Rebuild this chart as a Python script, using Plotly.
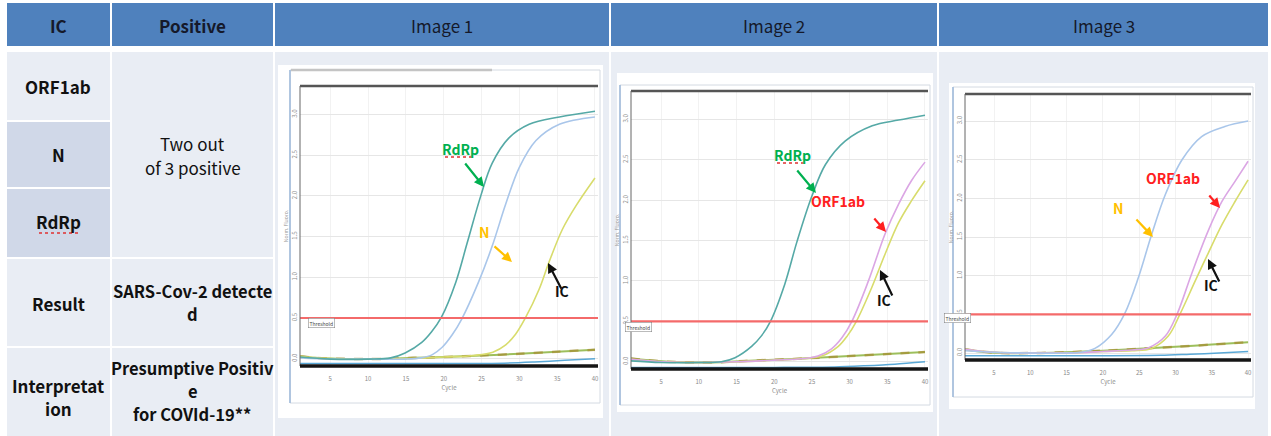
import plotly.graph_objects as go

W, H = 1271, 436
FONT = "Noto Sans CJK KR"

# ---------------- data ----------------
header_labels = ["IC", "Positive", "Image 1", "Image 2", "Image 3"]
header_bold = [True, True, False, False, False]
target_labels = [["ORF1ab"], ["N"], ["RdRp"], ["Result"], ["Interpretat", "ion"]]
positive_lines = ["Two out", "of 3 positive"]
result_lines = ["SARS-Cov-2 detecte", "d"]
interp_lines = ["Presumptive Positiv", "e", "for COVId-19**"]

x_tick_vals = [5, 10, 15, 20, 25, 30, 35, 40]
x_tick_text = ["5", "10", "15", "20", "25", "30", "35", "40"]
y_tick_vals = [0.0, 0.5, 1.0, 1.5, 2.0, 2.5, 3.0]
y_tick_text = ["0.0", "0.5", "1.0", "1.5", "2.0", "2.5", "3.0"]
threshold = 0.5

# Image 1
img1_rdrp_x = [1, 5, 10, 13, 14.9, 17.1, 18.4, 19.7, 21.6, 23.1, 24.9, 26.4, 28.6, 31.3, 35.3, 40]
img1_rdrp_y = [0.02, -0.005, -0.005, 0.01, 0.07, 0.2, 0.33, 0.51, 0.94, 1.42, 2.0, 2.4, 2.71, 2.88, 2.97, 3.04]
img1_n_x = [1, 5, 10, 15, 17, 18.5, 19.8, 21.1, 22.4, 24.6, 26.4, 28.2, 30, 32.2, 35.3, 40]
img1_n_y = [0.01, -0.005, -0.005, -0.005, 0.01, 0.05, 0.14, 0.29, 0.49, 0.94, 1.38, 1.9, 2.35, 2.68, 2.88, 2.97]
img1_ic_x = [1, 5, 10, 15, 20, 24, 26.5, 28.2, 29.5, 30.8, 32.6, 33.9, 35.7, 37.5, 40]
img1_ic_y = [0.03, 0.0, -0.005, 0.0, 0.02, 0.04, 0.08, 0.17, 0.3, 0.5, 0.85, 1.18, 1.59, 1.88, 2.22]
img1_base_x = [1, 3, 6, 10, 13, 16, 20, 25, 30, 35, 40]
img1_base_y = [0.03, 0.01, 0.0, -0.005, 0.0, 0.01, 0.02, 0.04, 0.06, 0.085, 0.11]
img1_low_x = [1, 10, 20, 28, 32, 36, 40]
img1_low_y = [-0.06, -0.06, -0.06, -0.055, -0.04, -0.02, 0.0]

# Image 2
img2_rdrp_x = [1, 5, 10, 13, 14.8, 17.0, 18.3, 19.5, 21.4, 23.0, 25.0, 26.8, 29.4, 33.0, 36.5, 40]
img2_rdrp_y = [0.01, -0.01, -0.01, 0.0, 0.05, 0.19, 0.32, 0.5, 0.96, 1.48, 2.05, 2.44, 2.73, 2.92, 2.99, 3.05]
img2_orf_x = [1, 5, 10, 15, 20, 24, 25.8, 27.6, 29.0, 30.3, 32.5, 34.7, 36.5, 38.2, 40]
img2_orf_y = [0.03, 0.0, -0.01, 0.0, 0.02, 0.04, 0.07, 0.16, 0.3, 0.5, 1.0, 1.58, 1.95, 2.24, 2.47]
img2_ic_x = [1, 5, 10, 15, 20, 24, 26.3, 28.5, 29.7, 30.9, 32.9, 34.7, 36.5, 38.2, 40]
img2_ic_y = [0.03, 0.0, -0.01, 0.0, 0.02, 0.04, 0.07, 0.19, 0.32, 0.5, 0.91, 1.33, 1.72, 1.99, 2.24]
img2_base_x = [1, 3, 6, 10, 13, 16, 20, 25, 30, 35, 40]
img2_base_y = [0.04, 0.02, 0.0, -0.01, -0.005, 0.01, 0.025, 0.045, 0.07, 0.095, 0.12]
img2_low_x = [1, 10, 20, 28, 32, 36, 40]
img2_low_y = [-0.07, -0.07, -0.07, -0.065, -0.05, -0.03, 0.0]

# Image 3
img3_n_x = [1, 5, 10, 15, 17, 18.9, 21.2, 23.0, 24.9, 26.7, 28.6, 30.9, 33.6, 36.8, 40]
img3_n_y = [0.03, 0.01, 0.0, 0.0, 0.01, 0.06, 0.24, 0.51, 0.98, 1.53, 2.05, 2.5, 2.80, 2.93, 3.0]
img3_orf_x = [1, 5, 10, 15, 20, 24, 26.3, 28.6, 30.2, 32.2, 34.5, 36.4, 38.2, 40]
img3_orf_y = [0.05, 0.01, 0.0, 0.0, 0.02, 0.04, 0.07, 0.22, 0.5, 1.02, 1.58, 1.96, 2.22, 2.48]
img3_ic_x = [1, 5, 10, 15, 20, 24, 26.7, 29.0, 30.6, 32.7, 34.5, 36.4, 38.2, 40]
img3_ic_y = [0.05, 0.01, 0.0, 0.0, 0.02, 0.03, 0.06, 0.22, 0.5, 0.93, 1.29, 1.66, 1.96, 2.24]
img3_base_x = [1, 3, 6, 10, 13, 16, 20, 25, 30, 35, 40]
img3_base_y = [0.05, 0.02, 0.0, 0.0, 0.005, 0.015, 0.03, 0.055, 0.08, 0.11, 0.14]
img3_low_x = [1, 10, 20, 28, 32, 36, 40]
img3_low_y = [-0.035, -0.035, -0.035, -0.03, -0.015, 0.0, 0.02]

# ---------------- style ----------------
C_HEAD = "#4F81BD"
C_LIGHT = "#E9EDF4"
C_DARK = "#D0D8E8"
C_RDRP = "#55A9A6"
C_N = "#A9C6EA"
C_IC = "#D8DC6C"
C_ORF = "#DBA6E4"
C_BASE = "#9DBF5C"
C_BASE2 = "#A8862C"
C_LOW = "#5AA8D6"
C_THR = "#F46A6A"


def fx(p):
    return p / W


def fy(p):
    return 1 - p / H


fig = go.Figure()

charts = [
    dict(plot=(300, 598, 86, 366), panel=(278, 603, 65, 418), frame=(290, 600, 70, 403),
         series=[(img1_base_x, img1_base_y, "base"), (img1_low_x, img1_low_y, "low"),
                 (img1_ic_x, img1_ic_y, C_IC), (img1_n_x, img1_n_y, C_N),
                 (img1_rdrp_x, img1_rdrp_y, C_RDRP)]),
    dict(plot=(631, 928, 91, 369), panel=(617, 933, 73, 412), frame=(620, 930, 85, 405),
         series=[(img2_base_x, img2_base_y, "base"), (img2_low_x, img2_low_y, "low"),
                 (img2_ic_x, img2_ic_y, C_IC), (img2_orf_x, img2_orf_y, C_ORF),
                 (img2_rdrp_x, img2_rdrp_y, C_RDRP)]),
    dict(plot=(965, 1251, 94, 360), panel=(949, 1255, 83, 409), frame=(953, 1253, 87, 397),
         series=[(img3_base_x, img3_base_y, "base"), (img3_low_x, img3_low_y, "low"),
                 (img3_ic_x, img3_ic_y, C_IC), (img3_orf_x, img3_orf_y, C_ORF),
                 (img3_n_x, img3_n_y, C_N)]),
]

shapes = []
annotations = []


def add_lines(lines, cx, first_y, step, bold, size=17):
    for k, ln in enumerate(lines):
        annotations.append(dict(x=fx(cx), y=fy(first_y + k * step), xref="paper", yref="paper",
                                text=("<b>%s</b>" % ln) if bold else ln, showarrow=False,
                                xanchor="center", yanchor="middle",
                                font=dict(family=FONT, size=size, color="#111111")))


# ---------------- table ----------------
cols = [(7, 110), (112, 273), (275, 609), (611, 937), (939, 1268)]
for (x0, x1), lab, bold in zip(cols, header_labels, header_bold):
    shapes.append(dict(type="rect", xref="paper", yref="paper", x0=fx(x0), x1=fx(x1),
                       y0=fy(46), y1=fy(3), fillcolor=C_HEAD, line=dict(width=0), layer="below"))
    annotations.append(dict(x=fx((x0 + x1) / 2), y=fy(26), xref="paper", yref="paper",
                            text=("<b>%s</b>" % lab) if bold else lab, showarrow=False,
                            xanchor="center", yanchor="middle",
                            font=dict(family=FONT, size=17, color="#15192a")))

rows = [(52, 120), (122, 187), (189, 257), (259, 346), (348, 436)]
row_fill = [C_LIGHT, C_DARK, C_DARK, C_LIGHT, C_LIGHT]
row_y = [86, 155, 222, 303, 385]
for (y0, y1), fc, lab, cy in zip(rows, row_fill, target_labels, row_y):
    shapes.append(dict(type="rect", xref="paper", yref="paper", x0=fx(7), x1=fx(110),
                       y0=fy(y1), y1=fy(y0), fillcolor=fc, line=dict(width=0), layer="below"))
    add_lines(lab, 58, cy, 23, True)

for (y0, y1) in [(52, 257), (259, 346), (348, 436)]:
    shapes.append(dict(type="rect", xref="paper", yref="paper", x0=fx(112), x1=fx(273),
                       y0=fy(y1), y1=fy(y0), fillcolor=C_LIGHT, line=dict(width=0), layer="below"))
add_lines(positive_lines, 192.5, 143, 24, False)
add_lines(result_lines, 192.5, 291, 23, True, 16.5)
add_lines(interp_lines, 192.5, 368, 23, True, 16.5)

for x0, x1 in cols[2:]:
    shapes.append(dict(type="rect", xref="paper", yref="paper", x0=fx(x0), x1=fx(x1),
                       y0=fy(436), y1=fy(52), fillcolor=C_LIGHT, line=dict(width=0), layer="below"))

shapes.append(dict(type="line", xref="paper", yref="paper", x0=fx(39), x1=fx(78),
                   y0=fy(233), y1=fy(233), line=dict(color="#E03030", width=1.5, dash="dot"),
                   layer="above"))

# ---------------- charts ----------------
for i, ch in enumerate(charts, start=1):
    l, r, t, b = ch["plot"]
    pl, pr, pt, pb = ch["panel"]
    fl, frr, ft, fb = ch["frame"]
    xa = "x" if i == 1 else "x%d" % i
    ya = "y" if i == 1 else "y%d" % i
    shapes.append(dict(type="rect", xref="paper", yref="paper", x0=fx(pl), x1=fx(pr),
                       y0=fy(pb), y1=fy(pt), fillcolor="white", line=dict(width=0), layer="below"))
    shapes.append(dict(type="rect", xref="paper", yref="paper", x0=fx(fl), x1=fx(frr),
                       y0=fy(fb), y1=fy(ft), fillcolor="rgba(0,0,0,0)",
                       line=dict(color="#D4DAE2", width=1), layer="below"))
    shapes.append(dict(type="line", xref="paper", yref="paper", x0=fx(fl), x1=fx(fl),
                       y0=fy(fb), y1=fy(ft), line=dict(color="#9DB9DA", width=1.5), layer="below"))
    shapes.append(dict(type="line", xref="%s domain" % xa, yref="%s domain" % ya, x0=0, x1=1,
                       y0=1, y1=1, line=dict(color="#555555", width=2.5)))
    shapes.append(dict(type="line", xref="%s domain" % xa, yref="%s domain" % ya, x0=0, x1=0,
                       y0=0, y1=1, line=dict(color="#666666", width=1)))
    shapes.append(dict(type="line", xref="%s domain" % xa, yref="%s domain" % ya, x0=0, x1=1,
                       y0=0, y1=0, line=dict(color="#151515", width=3.5)))

    for sx, sy, col in ch["series"]:
        if col == "base":
            fig.add_trace(go.Scatter(x=sx, y=sy, mode="lines", xaxis=xa, yaxis=ya,
                                     line=dict(color=C_BASE, width=2, shape="spline", smoothing=0.8),
                                     showlegend=False, hoverinfo="skip"))
            fig.add_trace(go.Scatter(x=sx, y=sy, mode="lines", xaxis=xa, yaxis=ya,
                                     line=dict(color=C_BASE2, width=2.5, shape="spline",
                                               smoothing=0.8, dash="dash"),
                                     opacity=0.6, showlegend=False, hoverinfo="skip"))
        elif col == "low":
            fig.add_trace(go.Scatter(x=sx, y=sy, mode="lines", xaxis=xa, yaxis=ya,
                                     line=dict(color=C_LOW, width=1.5, shape="spline", smoothing=0.8),
                                     showlegend=False, hoverinfo="skip"))
        else:
            fig.add_trace(go.Scatter(x=sx, y=sy, mode="lines", xaxis=xa, yaxis=ya,
                                     line=dict(color=col, width=1.6, shape="spline", smoothing=1.0),
                                     showlegend=False, hoverinfo="skip"))
    fig.add_trace(go.Scatter(x=[1, 40.4], y=[threshold, threshold], mode="lines", xaxis=xa, yaxis=ya,
                             line=dict(color=C_THR, width=2.2), showlegend=False, hoverinfo="skip"))

    axx = dict(domain=[fx(l), fx(r)], range=[1, 40.4], anchor=ya, tickvals=x_tick_vals,
               ticktext=x_tick_text, tickfont=dict(family=FONT, size=6, color="#8a8a8a"),
               showgrid=True, gridcolor="#F2F2F2", gridwidth=1, zeroline=False, showline=False,
               ticks="", ticklabelstandoff=8,
               title=dict(text="Cycle", font=dict(family=FONT, size=6, color="#8a8a8a"), standoff=2))
    axy = dict(domain=[fy(b), fy(t)], range=[-0.09, 3.35], anchor=xa, tickvals=y_tick_vals,
               ticktext=y_tick_text, tickangle=-90, tickfont=dict(family=FONT, size=6, color="#8a8a8a"),
               showgrid=True, gridcolor="#E6E6E6", gridwidth=1, zeroline=False, showline=False,
               ticks="", ticklabelstandoff=1,
               title=dict(text="Norm. Fluoro.", font=dict(family=FONT, size=5, color="#9a9a9a"), standoff=1))
    fig.update_layout(**{("xaxis" if i == 1 else "xaxis%d" % i): axx,
                         ("yaxis" if i == 1 else "yaxis%d" % i): axy})

for (tx, ty) in [(308, 328), (638, 332), (971, 323)]:
    annotations.append(dict(x=fx(tx), y=fy(ty), xref="paper", yref="paper", text="Threshold",
                            showarrow=False, font=dict(family=FONT, size=5, color="#444444"),
                            bordercolor="#777777", borderwidth=0.5, borderpad=1, bgcolor="white"))

shapes.append(dict(type="line", xref="paper", yref="paper", x0=fx(291), x1=fx(492),
                   y0=fy(70), y1=fy(70), line=dict(color="#C4C4C4", width=2.5)))

labels = [
    ("RdRp", "#00B050", 460, 149, 464, 162, 484, 187),
    ("N", "#FFC000", 484, 232, 493, 245, 512, 262),
    ("IC", "#111111", 562, 303, 562, 290, 548, 263),
    ("RdRp", "#00B050", 792, 155, 796, 169, 816, 193),
    ("ORF1ab", "#FF2020", 867, 201, 873, 217, 886, 232),
    ("IC", "#111111", 893, 312, 893, 297, 880, 270),
    ("N", "#FFC000", 1126, 208, 1135, 218, 1153, 237),
    ("ORF1ab", "#FF2020", 1202, 178, 1208, 194, 1220, 208),
    ("IC", "#111111", 1220, 297, 1220, 283, 1208, 259),
]
for txt, col, tx, ty, ax0, ay0, hx, hy in labels:
    annotations.append(dict(x=fx(tx), y=fy(ty), xref="paper", yref="paper", text="<b>%s</b>" % txt,
                            showarrow=False, font=dict(family=FONT, size=14, color=col)))
    annotations.append(dict(x=fx(hx), y=fy(hy), xref="paper", yref="paper", text="",
                            showarrow=True, arrowhead=2, arrowsize=0.9, arrowwidth=2.2,
                            arrowcolor=col, ax=ax0 - hx, ay=ay0 - hy, axref="pixel", ayref="pixel"))
    if txt == "RdRp":
        shapes.append(dict(type="line", xref="paper", yref="paper", x0=fx(tx - 15), x1=fx(tx + 15),
                           y0=fy(ty + 8), y1=fy(ty + 8),
                           line=dict(color="#E03030", width=1.3, dash="dot")))

fig.update_layout(width=W, height=H, margin=dict(l=0, r=0, t=0, b=0),
                  paper_bgcolor="white", plot_bgcolor="white", showlegend=False,
                  shapes=shapes, annotations=annotations,
                  font=dict(family=FONT))

fig.write_html("out.html", config={"displayModeBar": False},
               post_script="document.body.style.margin='0';document.body.style.overflow='hidden';")
